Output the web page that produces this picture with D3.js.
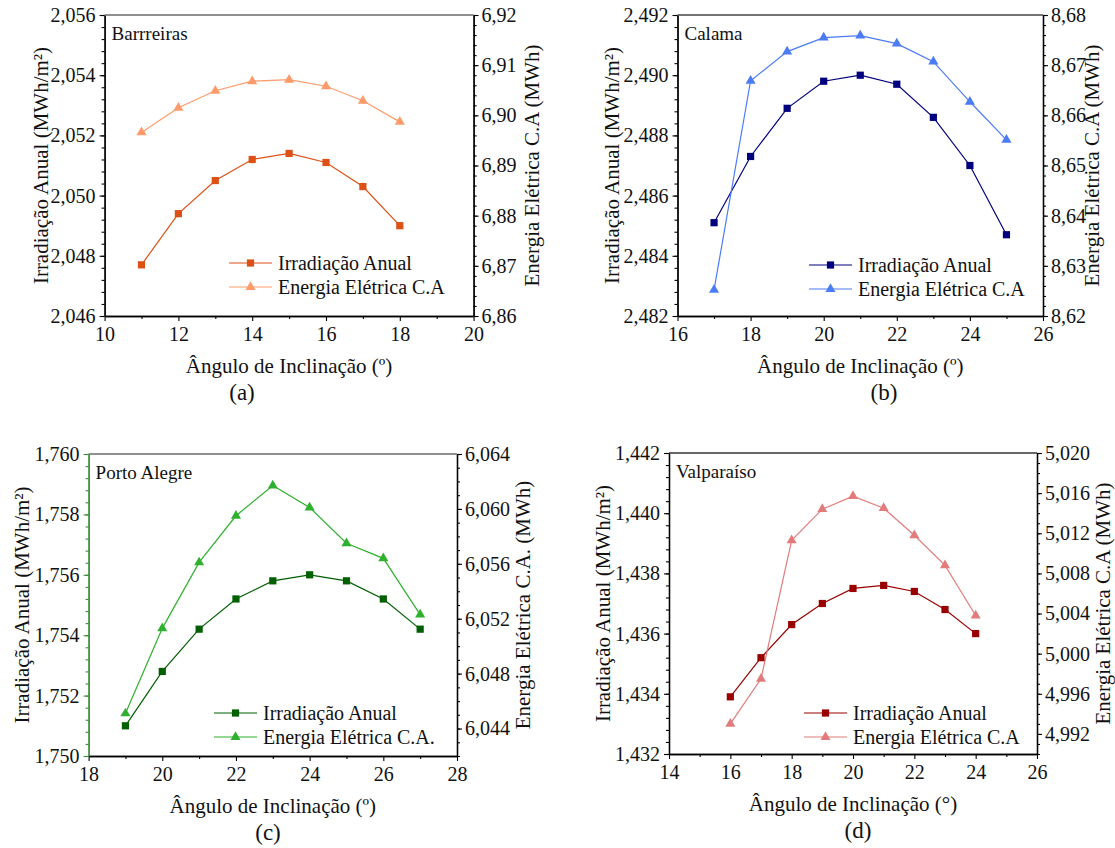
<!DOCTYPE html>
<html>
<head>
<meta charset="utf-8">
<script src="https://cdn.jsdelivr.net/npm/d3@7"></script>
<style>
  body { margin: 0; background: #fff; }
  svg { display: block; font-family: "Liberation Serif", "Times New Roman", serif; }
</style>
</head>
<body>
<svg id="chart" width="1115" height="848"></svg>
<script>
// --- data ---
const anglesA = [11, 12, 13, 14, 15, 16, 17, 18];
const irradA = [2.0477, 2.0494, 2.0505, 2.0512, 2.0514, 2.0511, 2.0503, 2.0490];
const energiaA = [6.8966, 6.9015, 6.9049, 6.9068, 6.9071, 6.9058, 6.9029, 6.8987];

const anglesB = [17, 18, 19, 20, 21, 22, 23, 24, 25];
const irradB = [2.4851, 2.4873, 2.4889, 2.4898, 2.4900, 2.4897, 2.4886, 2.4870, 2.4847];
const energiaB = [8.6252, 8.6669, 8.6727, 8.6755, 8.6759, 8.6743, 8.6707, 8.6627, 8.6551];

const anglesC = [19, 20, 21, 22, 23, 24, 25, 26, 27];
const irradC = [1.7510, 1.7528, 1.7542, 1.7552, 1.7558, 1.7560, 1.7558, 1.7552, 1.7542];
const energiaC = [6.0451, 6.0513, 6.0561, 6.0595, 6.0617, 6.0601, 6.0575, 6.0564, 6.0523];

const anglesD = [16, 17, 18, 19, 20, 21, 22, 23, 24];
const irradD = [1.4339, 1.4352, 1.4363, 1.4370, 1.4375, 1.4376, 1.4374, 1.4368, 1.4360];
const energiaD = [4.9930, 4.9975, 5.0113, 5.0144, 5.0157, 5.0145, 5.0118, 5.0088, 5.0038];

const placeNames = ["Barrreiras", "Calama", "Porto Alegre", "Valparaíso"];
const panelLetters = ["(a)", "(b)", "(c)", "(d)"];
const seriesNames = [
  ["Irradiação Anual", "Energia Elétrica C.A"],
  ["Irradiação Anual", "Energia Elétrica C.A"],
  ["Irradiação Anual", "Energia Elétrica C.A."],
  ["Irradiação Anual", "Energia Elétrica C.A"]
];
const xTitles = ["Ângulo de Inclinação (º)", "Ângulo de Inclinação (º)", "Ângulo de Inclinação (º)", "Ângulo de Inclinação (°)"];
const leftTitle = "Irradiação Anual (MWh/m²)";
const rightTitles = ["Energia Elétrica C.A (MWh)", "Energia Elétrica C.A (MWh)", "Energia Elétrica C.A. (MWh)", "Energia Elétrica C.A (MWh)"];

// --- layout / scale setup per panel ---
const panels = [
  { x: anglesA, y1: irradA, y2: energiaA,
    box: [104.6, 15, 473.6, 316], xDom: [10, 20], y1Dom: [2.046, 2.056], y1Step: 0.002,
    y2Dom: [6.86, 6.92], y2Start: 6.86, y2Step: 0.01, y2Minor: 0.002, y2Fmt: ".2f",
    c1: "#dd5016", c2: "#ff9b6b", leftAxis: "#000", topAxis: "#6a6a6a",
    legend: [229, 263], letterX: 242, lTitleX: 41, rTitleX: 532 },
  { x: anglesB, y1: irradB, y2: energiaB,
    box: [677.5, 15, 1043, 316], xDom: [16, 26], y1Dom: [2.482, 2.492], y1Step: 0.002,
    y2Dom: [8.62, 8.68], y2Start: 8.62, y2Step: 0.01, y2Minor: 0.002, y2Fmt: ".2f",
    c1: "#00007f", c2: "#4b7bf5", leftAxis: "#000", topAxis: "#444",
    legend: [809, 265], letterX: 884, lTitleX: 612, rTitleX: 1092 },
  { x: anglesC, y1: irradC, y2: energiaC,
    box: [88.6, 454, 457, 756], xDom: [18, 28], y1Dom: [1.750, 1.760], y1Step: 0.002,
    y2Dom: [6.042, 6.064], y2Start: 6.044, y2Step: 0.004, y2Minor: 0.001, y2Fmt: ".3f",
    c1: "#005f00", c2: "#2fb02f", leftAxis: "#3b8a3b", topAxis: "#6a6a6a",
    legend: [214, 713], letterX: 268, lTitleX: 22, rTitleX: 523 },
  { x: anglesD, y1: irradD, y2: energiaD,
    box: [669, 453, 1037, 754], xDom: [14, 26], y1Dom: [1.432, 1.442], y1Step: 0.002,
    y2Dom: [4.990, 5.020], y2Start: 4.992, y2Step: 0.004, y2Minor: 0.001, y2Fmt: ".3f",
    c1: "#990000", c2: "#e27c7c", leftAxis: "#000", topAxis: "#333",
    legend: [804, 713], letterX: 858, lTitleX: 603, rTitleX: 1103 }
];

const locale = d3.formatLocale({ decimal: ",", thousands: ".", grouping: [3], currency: ["", ""] });
const fmt3 = locale.format(".3f");

function steps(lo, hi, step) {
  const n = Math.round((hi - lo) / step);
  return d3.range(n + 1).map(i => +(lo + i * step).toFixed(5));
}

const svg = d3.select("#chart");

function styleAxis(g, color) {
  // drop d3's default sans-serif 10px so the serif from the svg is inherited
  g.attr("font-family", null).attr("font-size", null);
  g.select(".domain").attr("stroke", color).attr("stroke-width", 1.3);
  g.selectAll(".tick line").attr("stroke", color).attr("stroke-width", 1.1);
  g.selectAll(".tick text").attr("fill", "#111").style("font-size", "20px");
}

panels.forEach((p, idx) => {
  const [x0, y0, x1, y1b] = p.box;
  const x = d3.scaleLinear().domain(p.xDom).range([x0, x1]);
  const yL = d3.scaleLinear().domain(p.y1Dom).range([y1b, y0]);
  const yR = d3.scaleLinear().domain(p.y2Dom).range([y1b, y0]);
  const g = svg.append("g");

  // minor ticks
  const xMinor = steps(p.xDom[0], p.xDom[1], 1).filter(v => v % 2 !== 0);
  g.append("g").attr("transform", `translate(0,${y1b})`)
    .call(d3.axisBottom(x).tickValues(xMinor).tickSize(3).tickSizeOuter(0).tickFormat(""))
    .call(a => styleAxis(a, "#000"));
  g.append("g").attr("transform", `translate(${x0},0)`)
    .call(d3.axisLeft(yL).tickValues(steps(p.y1Dom[0], p.y1Dom[1], p.y1Step / 5)).tickSize(3).tickSizeOuter(0).tickFormat(""))
    .call(a => styleAxis(a, p.leftAxis));
  g.append("g").attr("transform", `translate(${x1},0)`)
    .call(d3.axisRight(yR).tickValues(steps(p.y2Dom[0], p.y2Dom[1], p.y2Minor)).tickSize(3).tickSizeOuter(0).tickFormat(""))
    .call(a => styleAxis(a, "#000"));

  // major ticks + labels
  g.append("g").attr("transform", `translate(0,${y1b})`)
    .call(d3.axisBottom(x).tickValues(steps(p.xDom[0], p.xDom[1], 2)).tickSize(5).tickSizeOuter(0).tickPadding(6).tickFormat(d3.format("d")))
    .call(a => styleAxis(a, "#000"));
  g.append("g").attr("transform", `translate(${x0},0)`)
    .call(d3.axisLeft(yL).tickValues(steps(p.y1Dom[0], p.y1Dom[1], p.y1Step)).tickSize(5).tickSizeOuter(0).tickPadding(4).tickFormat(fmt3))
    .call(a => styleAxis(a, p.leftAxis));
  g.append("g").attr("transform", `translate(${x1},0)`)
    .call(d3.axisRight(yR).tickValues(steps(p.y2Start, p.y2Dom[1], p.y2Step)).tickSize(5).tickSizeOuter(0).tickPadding(3).tickFormat(locale.format(p.y2Fmt)))
    .call(a => styleAxis(a, "#000"));

  // top border
  g.append("line").attr("x1", x0).attr("x2", x1).attr("y1", y0).attr("y2", y0)
    .attr("stroke", p.topAxis).attr("stroke-width", 1.3);

  // series
  const line1 = d3.line().x((d, i) => x(p.x[i])).y(d => yL(d));
  const line2 = d3.line().x((d, i) => x(p.x[i])).y(d => yR(d));
  g.append("path").attr("d", line1(p.y1)).attr("fill", "none").attr("stroke", p.c1).attr("stroke-width", 1.2);
  g.append("path").attr("d", line2(p.y2)).attr("fill", "none").attr("stroke", p.c2).attr("stroke-width", 1.2);

  const sq = d3.symbol(d3.symbolSquare, 52);
  const tri = d3.symbol(d3.symbolTriangle, 44);
  g.selectAll(".sq").data(p.y1).enter().append("path")
    .attr("d", sq).attr("fill", p.c1)
    .attr("transform", (d, i) => `translate(${x(p.x[i])},${yL(d)})`);
  g.selectAll(".tri").data(p.y2).enter().append("path")
    .attr("d", tri).attr("fill", p.c2)
    .attr("transform", (d, i) => `translate(${x(p.x[i])},${yR(d)})`);

  // place name
  g.append("text").attr("x", x0 + 7).attr("y", y0 + 25)
    .style("font-size", "19px").attr("fill", "#111").text(placeNames[idx]);

  // legend
  const [lx, ly] = p.legend;
  [[p.c1, sq], [p.c2, tri]].forEach(([c, sym], k) => {
    const yy = ly + k * 24;
    g.append("line").attr("x1", lx).attr("x2", lx + 43).attr("y1", yy).attr("y2", yy)
      .attr("stroke", c).attr("stroke-width", 1.2);
    g.append("path").attr("d", sym).attr("fill", c).attr("transform", `translate(${lx + 21.5},${yy})`);
    g.append("text").attr("x", lx + 49).attr("y", yy).attr("dy", "0.35em")
      .style("font-size", "20px").attr("fill", "#111").text(seriesNames[idx][k]);
  });

  // axis titles
  const cy = (y0 + y1b) / 2;
  g.append("text").attr("x", (x0 + x1) / 2).attr("y", y1b + 57).attr("text-anchor", "middle")
    .style("font-size", "21px").attr("fill", "#111").text(xTitles[idx]);
  g.append("text").attr("transform", `translate(${p.lTitleX + 7},${cy}) rotate(-90)`)
    .attr("text-anchor", "middle").style("font-size", "21px").attr("fill", "#111").text(leftTitle);
  g.append("text").attr("transform", `translate(${p.rTitleX + 7},${cy}) rotate(-90)`)
    .attr("text-anchor", "middle").style("font-size", "21px").attr("fill", "#111").text(rightTitles[idx]);

  // panel letter
  g.append("text").attr("x", p.letterX).attr("y", y1b + 84).attr("text-anchor", "middle")
    .style("font-size", "23px").attr("fill", "#111").text(panelLetters[idx]);
});
</script>
</body>
</html>
